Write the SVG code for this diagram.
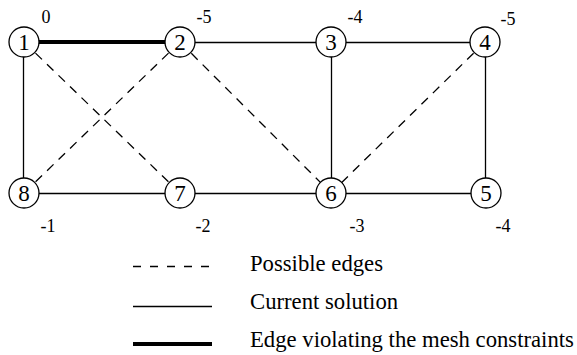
<svg xmlns="http://www.w3.org/2000/svg" width="577" height="355" viewBox="0 0 577 355">
<style>
.n circle{fill:#fff;stroke:#000;stroke-width:1.3}
.n text{text-anchor:middle}
.num{font-size:23px}
.lab{font-size:18px}
.e{stroke:#000;stroke-width:1.3;fill:none}
.d{stroke-dasharray:9,7}
.ld{stroke-dasharray:8,9}
.t{stroke-width:4}
</style>
<rect width="577" height="355" fill="#fff"/>
<g id="connectors">
<line class="e t" x1="24" y1="42" x2="180" y2="42"/>
<line class="e" x1="180" y1="42.5" x2="485" y2="42.5"/>
<line class="e" x1="23.5" y1="42" x2="23.5" y2="193"/>
<line class="e" x1="331.5" y1="42" x2="331.5" y2="193"/>
<line class="e" x1="485.5" y1="42" x2="485.5" y2="193"/>
<line class="e" x1="24" y1="193.5" x2="486" y2="193.5"/>
<line class="e d" x1="24" y1="42" x2="180" y2="193"/>
<line class="e d" x1="180" y1="42" x2="24" y2="193"/>
<line class="e d" x1="180" y1="42" x2="331" y2="193"/>
<line class="e d" x1="485" y1="42" x2="331" y2="193"/>
</g>
<g font-family="'Liberation Serif','Times New Roman',serif" fill="#000">
<g id="n1" class="n"><circle cx="24" cy="42" r="15"/><text class="num" x="24" y="50">1</text><text class="lab" x="46" y="23">0</text></g>
<g id="n2" class="n"><circle cx="180" cy="42" r="15"/><text class="num" x="180" y="50">2</text><text class="lab" x="204" y="23">-5</text></g>
<g id="n3" class="n"><circle cx="331" cy="42" r="15"/><text class="num" x="331" y="50">3</text><text class="lab" x="355" y="23">-4</text></g>
<g id="n4" class="n"><circle cx="485" cy="42" r="15"/><text class="num" x="485" y="50">4</text><text class="lab" x="508" y="25">-5</text></g>
<g id="n8" class="n"><circle cx="24" cy="193" r="15"/><text class="num" x="24" y="201">8</text><text class="lab" x="48" y="232">-1</text></g>
<g id="n7" class="n"><circle cx="180" cy="193" r="15"/><text class="num" x="180" y="201">7</text><text class="lab" x="203" y="232">-2</text></g>
<g id="n6" class="n"><circle cx="331" cy="193" r="15"/><text class="num" x="331" y="201">6</text><text class="lab" x="357" y="232">-3</text></g>
<g id="n5" class="n"><circle cx="486" cy="193" r="15"/><text class="num" x="486" y="201">5</text><text class="lab" x="503" y="232">-4</text></g>
<g id="legend" font-size="22.7">
<line class="e ld" x1="133" y1="266.5" x2="211" y2="266.5"/>
<line class="e" x1="133" y1="306.5" x2="212" y2="306.5"/>
<line class="e t" x1="133" y1="344" x2="212" y2="344"/>
<text x="250" y="271">Possible edges</text>
<text x="250" y="309">Current solution</text>
<text x="250" y="347">Edge violating the mesh constraints</text>
</g>
</g>
</svg>
